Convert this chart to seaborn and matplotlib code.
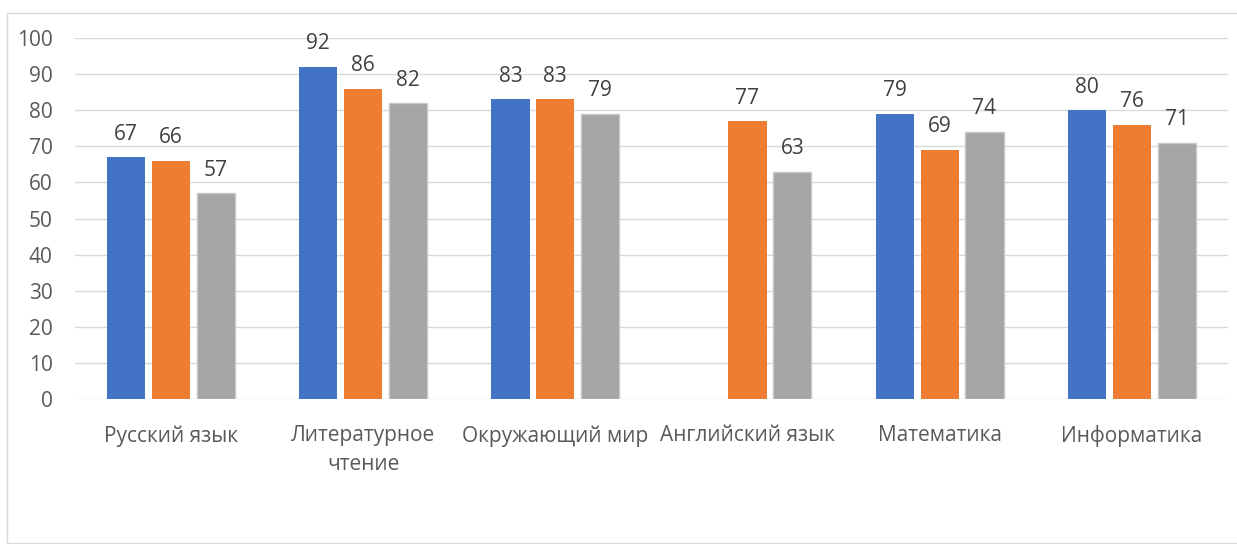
import numpy as np
import pandas as pd
import seaborn as sns
import matplotlib.pyplot as plt
from matplotlib.patches import Rectangle

# данные диаграммы
subjects = ["Русский язык", "Литературное\nчтение", "Окружающий мир",
            "Английский язык", "Математика", "Информатика"]
series_names = ["Ряд1", "Ряд2", "Ряд3"]
series1 = [67, 92, 83, np.nan, 79, 80]
series2 = [66, 86, 83, 77, 69, 76]
series3 = [57, 82, 79, 63, 74, 71]
y_ticks = [0, 10, 20, 30, 40, 50, 60, 70, 80, 90, 100]

colors = ["#4472C4", "#ED7D31", "#A5A5A5"]

rows = []
for name, vals in zip(series_names, [series1, series2, series3]):
    for subj, v in zip(subjects, vals):
        rows.append({"Предмет": subj, "Ряд": name, "Значение": v})
df = pd.DataFrame(rows)

sns.set_theme(style="white")
plt.rcParams['font.family'] = ['Open Sans', 'DejaVu Sans']

fig = plt.figure(figsize=(12.37, 5.44), dpi=100)
ax = fig.add_axes([0.0606, 0.2665, 0.932, 0.6636])

sns.barplot(data=df, x="Предмет", y="Значение", hue="Ряд", palette=colors,
            width=0.7, gap=0.15, saturation=1, errorbar=None, legend=False, ax=ax)

for i, cont in enumerate(ax.containers):
    for bar in cont:
        if i == 2:
            bar.set_edgecolor("#C8C8C8")
            bar.set_linewidth(1.0)
        else:
            bar.set_linewidth(0)
    ax.bar_label(cont, fmt=lambda v: '' if np.isnan(v) else f'{v:.0f}',
                 padding=9, fontsize=15, color="#404040")

ax.set_ylim(0, 100)
ax.set_xlim(-0.5, 5.5)
ax.set_yticks(y_ticks)
ax.yaxis.grid(True, color="#D9D9D9", linewidth=1)
ax.set_axisbelow(True)
for s in ax.spines.values():
    s.set_visible(False)
ax.tick_params(axis='both', length=0, labelsize=15, colors="#595959")
ax.tick_params(axis='x', pad=19)
ax.tick_params(axis='y', pad=16)
for lbl in ax.get_xticklabels():
    lbl.set_linespacing(1.5)
ax.set_xlabel("")
ax.set_ylabel("")

# рамка области диаграммы
fig.patches.append(Rectangle((7 / 1237, 0.002), 1.2, 1 - 13 / 544 - 0.002,
                             transform=fig.transFigure, fill=False,
                             edgecolor="#D9D9D9", linewidth=1))

fig.savefig("out.png", dpi=100, facecolor="white")
